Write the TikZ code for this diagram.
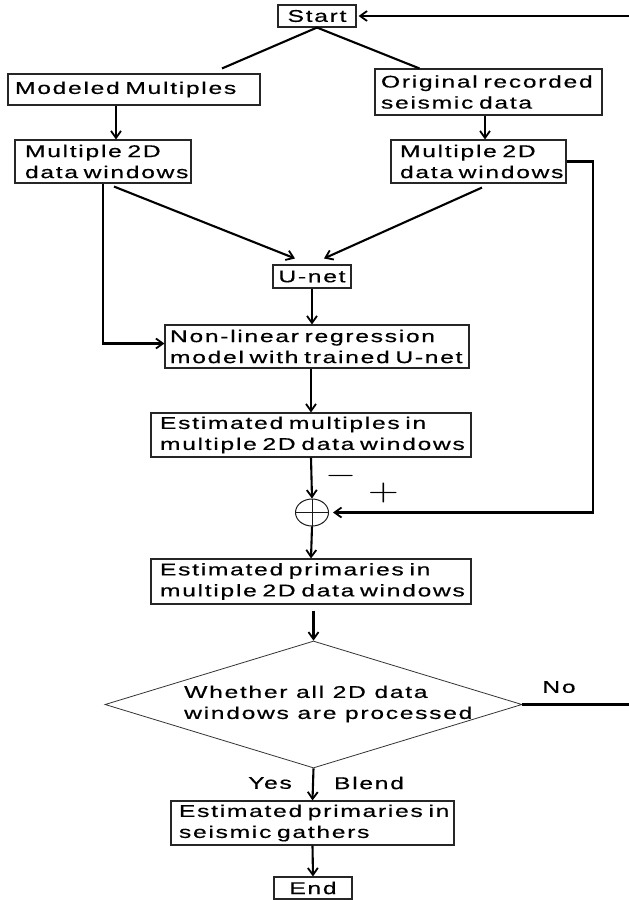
\documentclass[tikz,border=0pt]{standalone}
\usepackage{fontspec}
\setmainfont[FakeStretch=1.45,LetterSpace=10,FakeBold=0.5]{Liberation Sans}
\usetikzlibrary{arrows.meta,shapes.geometric,calc}
\hyphenpenalty=10000
\exhyphenpenalty=10000
\begin{document}
\begin{tikzpicture}[x=1pt,y=-1pt,
  every node/.style={font=\fontsize{17}{21}\selectfont, inner sep=0pt},
  lbox/.style n args={4}{draw=black!85, line width=1.1pt, align=left,
    minimum width=#1, minimum height=#2, text width=#3, inner xsep=#4},
  cbox/.style={draw=black!85, line width=1.1pt, align=center,
    minimum width=78pt, minimum height=22pt},
  conn/.style={line width=2.1pt, black},
  arr/.style={conn, -{Straight Barb[length=7pt,width=10pt,line width=1.8pt]}},
  dia/.style={draw=black!80, line width=0.8pt, diamond, minimum width=417pt, minimum height=127pt},
  sign/.style={font=\fontsize{10}{10}\selectfont},
  lab/.style={font=\fontsize{17}{21}\selectfont}
]
\useasboundingbox (0,0) rectangle (629,900);

\node[cbox] (start) at (317,16) {Start};
\node[lbox={252pt}{31pt}{238pt}{7pt}] (mm) at (134,89.5) {Modeled~Multiples};
\node[lbox={227pt}{46pt}{215pt}{6pt}] (ors) at (488.5,92) {Original~recorded\\seismic~data};
\node[lbox={176pt}{43pt}{156pt}{10pt}] (lw) at (103,161.5) {Multiple~2D\\data~windows};
\node[lbox={175pt}{43pt}{157pt}{9pt}] (rw) at (478.5,161.5) {Multiple~2D\\data~windows};
\node[cbox, minimum height=23pt] (unet) at (312,276.5) {U-net};
\node[lbox={304pt}{43pt}{294pt}{5pt}] (nl) at (317,346.5) {Non-linear~regression\\model~with~trained~U-net};
\node[lbox={320pt}{44pt}{302pt}{9pt}] (em) at (311,435) {Estimated~multiples~in\\multiple~2D~data~windows};
\node[draw=black!90, line width=1pt, ellipse, minimum width=33pt, minimum height=27pt] (sum) at (312,512.5) {};
\draw[line width=1pt, black!90] (sum.north) -- (sum.south) (sum.west) -- (sum.east);
\node[lbox={320pt}{45pt}{302pt}{9pt}] (ep) at (311,581.5) {Estimated~primaries~in\\multiple~2D~data~windows};
\node[dia] (dec) at (313.5,704.5) {};
\node[align=left, anchor=west] (dect) at (184,704) {Whether~all~2D~data\\windows~are~processed};
\node[lbox={283pt}{44pt}{267pt}{8pt}] (eg) at (312.5,823) {Estimated~primaries~in\\seismic~gathers};
\node[cbox] (end) at (313,888) {End};

\coordinate (topR) at (629,16);
\coordinate (noR) at (629,704.5);

% connectors
\draw[arr] (topR) -- ([xshift=2pt]start.east);
\draw[conn] (start.south) -- ([xshift=88pt,yshift=5pt]mm.north);
\draw[conn] (start.south) -- ([xshift=45pt]ors.north west);
\draw[arr] ([xshift=-18pt]mm.south) -- ([xshift=-18pt]mm.south |- lw.north);
\draw[arr] ([xshift=-3.5pt]ors.south) -- ([xshift=-3.5pt]ors.south |- rw.north);
\draw[arr] ([xshift=11pt,yshift=-3pt]lw.south) -- ([xshift=-17pt,yshift=6pt]unet.north);
\draw[arr] ([xshift=3.5pt,yshift=-4pt]rw.south) -- ([xshift=12pt,yshift=6pt]unet.north);
\draw[arr] (lw.south) |- ([yshift=3pt]nl.west);
\draw[arr] (unet.south) -- (unet.south |- nl.north);
\draw[arr] (em.north |- nl.south) -- (em.north);
\draw[arr] (em.south) -- (sum.north);
\draw[arr] (rw.east) -- ++(26,0) |- ([xshift=4pt]sum.east);
\draw[arr] (sum.south) -- (ep.north);
\draw[arr] ([yshift=-6pt]dec.north |- ep.south) -- (dec.north);
\draw[conn] (dec.east) -- (noR);
\draw[arr] (dec.south) -- (eg.north);
\draw[arr] (eg.south) -- (end.north);

% labels
\node[sign] (minus) at (341,476) {\scalebox{4}[3]{$-$}};
\node[sign] (plus) at (383.5,493) {\scalebox{4}[3]{$+$}};
\node[lab] (no) at (559,687) {No};
\node[lab] (yes) at (270,783) {Yes};
\node[lab] (blend) at (369,783) {Blend};
\end{tikzpicture}
\end{document}
